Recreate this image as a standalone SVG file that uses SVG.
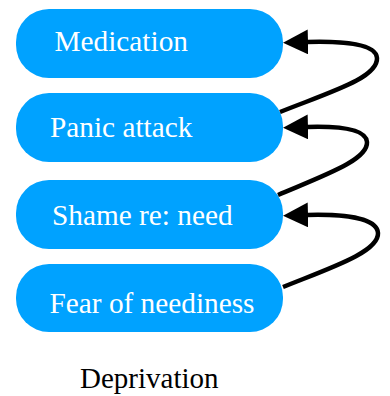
<svg xmlns="http://www.w3.org/2000/svg" width="390" height="396" viewBox="0 0 390 396">
  <defs>
    <marker id="arrow" markerUnits="userSpaceOnUse" markerWidth="26" markerHeight="26" refX="1" refY="12.5" orient="auto">
      <path d="M0,0 L25,12.5 L0,25 z" fill="#000"/>
    </marker>
  </defs>
  <style>
    .box { fill: #00A2FF; }
    .lbl { font-family: "Liberation Serif", "Times New Roman", serif; font-size: 29.3px; fill: #fff; }
    .cap { font-family: "Liberation Serif", "Times New Roman", serif; font-size: 29px; fill: #000; }
    .edge { fill: none; stroke: #000; stroke-width: 4.5; marker-end: url(#arrow); }
  </style>
  <rect width="390" height="396" fill="#fff"/>
  <g id="medication">
    <rect class="box" x="16" y="9" width="267" height="69" rx="33" ry="33"/>
    <text class="lbl" x="54.5" y="51">Medication</text>
  </g>
  <g id="panic-attack">
    <rect class="box" x="16" y="93" width="267" height="69" rx="33" ry="33"/>
    <text class="lbl" x="50" y="137">Panic attack</text>
  </g>
  <g id="shame-re-need">
    <rect class="box" x="16" y="180" width="267" height="69" rx="33" ry="33"/>
    <text class="lbl" x="52" y="225">Shame re: need</text>
  </g>
  <g id="fear-of-neediness">
    <rect class="box" x="16" y="264" width="267" height="68" rx="33" ry="33"/>
    <text class="lbl" x="49.5" y="313">Fear of neediness</text>
  </g>
  <g id="deprivation">
    <text class="cap" x="80" y="388">Deprivation</text>
  </g>
  <g id="connectors">
    <path class="edge" d="M280 112 C330 92, 378 78, 377 58 C376 44, 345 41, 307 42"/>
    <path class="edge" d="M278 195 C325 175, 368 160, 367 142 C366 129, 340 126, 307 127"/>
    <path class="edge" d="M283 287 C330 268, 379 252, 378 233 C377 218, 345 214, 307 215"/>
  </g>
</svg>
